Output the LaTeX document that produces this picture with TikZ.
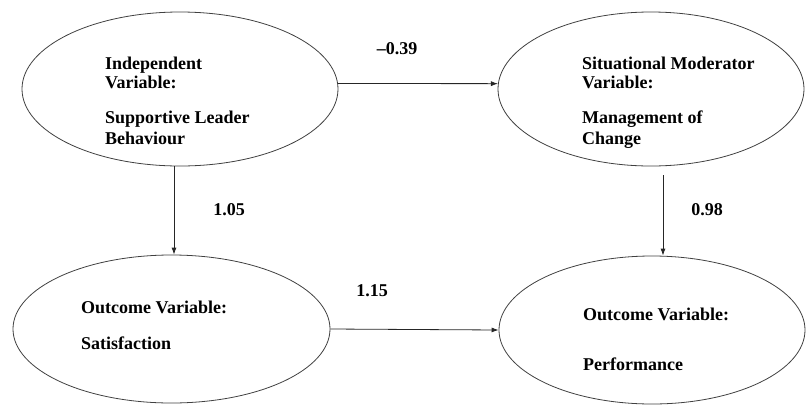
\documentclass[tikz,border=0pt]{standalone}
\usepackage{fontspec}
\setmainfont{Liberation Serif}
\usetikzlibrary{shapes.geometric,arrows.meta}
\begin{document}
\begin{tikzpicture}[x=1pt,y=-1pt,
  var/.style={ellipse,draw=black!75,line width=0.8pt,inner sep=0pt},
  lbl/.style={anchor=base west,inner sep=0pt,font=\fontsize{18}{20}\selectfont\bfseries},
  num/.style={anchor=base,inner sep=0pt,font=\fontsize{18}{20}\selectfont\bfseries},
  conn/.style={draw=black!85,line width=0.8pt,-{Latex[length=7pt,width=5pt]}}]
\useasboundingbox (0,0) rectangle (806,405);
% ellipses
\node[var,minimum width=316pt,minimum height=154pt] (e1) at (180,89) {};
\node[var,minimum width=306pt,minimum height=154pt] (e2) at (651,89) {};
\node[var,minimum width=317pt,minimum height=148pt] (e3) at (171.5,329) {};
\node[var,minimum width=306pt,minimum height=148pt] (e4) at (652,330) {};
% texts
\node[lbl] (t1a) at (105,69) {Independent};
\node[lbl] (t1b) at (105,88) {Variable:};
\node[lbl] (t1c) at (105,123) {Supportive Leader};
\node[lbl] (t1d) at (105,144) {Behaviour};
\node[lbl] (t2a) at (582,69) {Situational Moderator};
\node[lbl] (t2b) at (582,88) {Variable:};
\node[lbl] (t2c) at (582,123) {Management of};
\node[lbl] (t2d) at (582,144) {Change};
\node[lbl] (t3a) at (81,313) {Outcome Variable:};
\node[lbl] (t3b) at (81,349) {Satisfaction};
\node[lbl] (t4a) at (583,320) {Outcome Variable:};
\node[lbl] (t4b) at (583,370) {Performance};
% numbers
\node[num] (n1) at (397,54) {–0.39};
\node[num] (n2) at (229,215) {1.05};
\node[num] (n3) at (372,296) {1.15};
\node[num] (n4) at (707,215) {0.98};
% connectors
\draw[conn] (e1.2) -- (e2.178);
\draw[conn] ([xshift=-6pt]e1.south) -- ([xshift=-6pt]e1.south |- e3.north);
\draw[conn] (e3.east) -- (e4.west);
\coordinate (g4) at ([xshift=12pt,yshift=-9pt]e2.south);
\draw[conn] (g4) -- (g4 |- e4.north);
\end{tikzpicture}
\end{document}
